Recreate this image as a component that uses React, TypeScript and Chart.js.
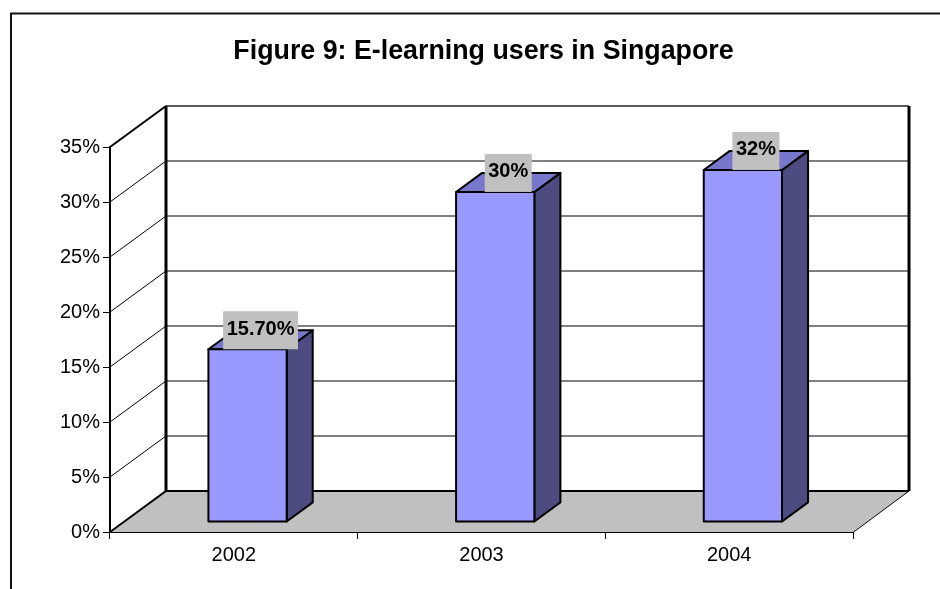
import React, { useEffect, useRef } from "react";
import { Chart, registerables } from "chart.js";

Chart.register(...registerables);

// ---- data ----
const categories = ["2002", "2003", "2004"];
const values = [15.7, 30, 32];
const valueLabels = ["15.70%", "30%", "32%"];
const yMin = 0;
const yMax = 35;
const yStep = 5;
const titleText = "Figure 9: E-learning users in Singapore";

// ---- style / layout constants ----
const FONT = "'Liberation Sans', Arial, Helvetica, sans-serif";
const DX = 56; // 3D depth offset (x)
const DY = 41; // 3D depth offset (y, upward)
const BAR_FRONT = 0.245;
const BAR_BACK = 0.71;
const FRONT_COLOR = "#9999FF";
const TOP_COLOR = "#7777CC";
const SIDE_COLOR = "#4C4C80";
const FLOOR_COLOR = "#C0C0C0";
const LABEL_BG = "#C0C0C0";

const excel3d = {
  id: "excel3d",
  beforeDatasetsDraw(chart: any) {
    const { ctx, chartArea, scales } = chart;
    const L = chartArea.left;
    const R = chartArea.right;
    const T = chartArea.top;
    const B = chartArea.bottom;
    const ys = scales.y;
    ctx.save();
    // floor
    ctx.fillStyle = FLOOR_COLOR;
    ctx.beginPath();
    ctx.moveTo(L, B);
    ctx.lineTo(R, B);
    ctx.lineTo(R + DX, B - DY);
    ctx.lineTo(L + DX, B - DY);
    ctx.closePath();
    ctx.fill();
    // gridlines on side + back wall
    ctx.strokeStyle = "#000";
    ctx.lineWidth = 1;
    for (const t of ys.ticks) {
      const v = t.value;
      if (v <= yMin || v >= yMax) continue;
      const y = ys.getPixelForValue(v);
      ctx.beginPath();
      ctx.moveTo(L, y);
      ctx.lineTo(L + DX, y - DY);
      ctx.lineTo(R + DX, y - DY);
      ctx.stroke();
    }
    // back wall top edge
    ctx.lineWidth = 1.5;
    ctx.strokeStyle = "#222";
    ctx.beginPath();
    ctx.moveTo(L + DX, T - DY);
    ctx.lineTo(R + DX, T - DY);
    ctx.stroke();
    ctx.strokeStyle = "#000";
    // side wall top diagonal
    ctx.lineWidth = 2;
    ctx.beginPath();
    ctx.moveTo(L, T);
    ctx.lineTo(L + DX, T - DY);
    ctx.stroke();
    // back wall vertical edges
    ctx.lineWidth = 3;
    ctx.beginPath();
    ctx.moveTo(L + DX, T - DY);
    ctx.lineTo(L + DX, B - DY);
    ctx.moveTo(R + DX, T - DY);
    ctx.lineTo(R + DX, B - DY);
    ctx.stroke();
    // floor back edge & left diagonal
    ctx.lineWidth = 2;
    ctx.beginPath();
    ctx.moveTo(L, B);
    ctx.lineTo(L + DX, B - DY);
    ctx.lineTo(R + DX, B - DY);
    ctx.stroke();
    // floor right diagonal & front edge
    ctx.lineWidth = 1;
    ctx.beginPath();
    ctx.moveTo(L, B + 0.5);
    ctx.lineTo(R, B + 0.5);
    ctx.lineTo(R + DX, B - DY);
    ctx.stroke();
    ctx.restore();
  },
  afterDatasetsDraw(chart: any) {
    const { ctx } = chart;
    const meta = chart.getDatasetMeta(0);
    ctx.save();
    ctx.lineJoin = "round";
    const bdx = (BAR_BACK - BAR_FRONT) * DX;
    const bdy = (BAR_BACK - BAR_FRONT) * DY;
    const boxes: any[] = [];
    meta.data.forEach((el: any, i: number) => {
      const { x, y, base, width } = el.getProps(["x", "y", "base", "width"], true);
      const fx0 = x - width / 2 + BAR_FRONT * DX;
      const fx1 = fx0 + width;
      const fyTop = y - BAR_FRONT * DY;
      const fyBot = base - BAR_FRONT * DY;
      ctx.lineWidth = 2;
      ctx.strokeStyle = "#000";
      // side face
      ctx.fillStyle = SIDE_COLOR;
      ctx.beginPath();
      ctx.moveTo(fx1, fyTop);
      ctx.lineTo(fx1 + bdx, fyTop - bdy);
      ctx.lineTo(fx1 + bdx, fyBot - bdy);
      ctx.lineTo(fx1, fyBot);
      ctx.closePath();
      ctx.fill();
      ctx.stroke();
      // top face
      ctx.fillStyle = TOP_COLOR;
      ctx.beginPath();
      ctx.moveTo(fx0, fyTop);
      ctx.lineTo(fx1, fyTop);
      ctx.lineTo(fx1 + bdx, fyTop - bdy);
      ctx.lineTo(fx0 + bdx, fyTop - bdy);
      ctx.closePath();
      ctx.fill();
      ctx.stroke();
      // front face
      ctx.fillStyle = FRONT_COLOR;
      ctx.beginPath();
      ctx.rect(fx0, fyTop, width, fyBot - fyTop);
      ctx.fill();
      ctx.stroke();
      boxes.push({ cx: fx0 + width / 2 + bdx / 2, bottom: fyTop, text: valueLabels[i] });
    });
    // data labels
    ctx.font = "bold 20px " + FONT;
    ctx.textAlign = "center";
    ctx.textBaseline = "middle";
    for (const b of boxes) {
      const tw = ctx.measureText(b.text).width;
      const bw = tw + 7;
      const bh = 38;
      ctx.fillStyle = LABEL_BG;
      ctx.fillRect(b.cx - bw / 2, b.bottom - bh, bw, bh);
      ctx.fillStyle = "#000";
      ctx.fillText(b.text, b.cx, b.bottom - bh / 2 - 1);
    }
    ctx.restore();
  },
  afterDraw(chart: any) {
    const { ctx } = chart;
    ctx.save();
    // outer frame (top & left visible)
    ctx.strokeStyle = "#111";
    ctx.lineWidth = 2;
    ctx.beginPath();
    ctx.moveTo(11, chart.height);
    ctx.lineTo(11, 13.5);
    ctx.lineTo(chart.width, 13.5);
    ctx.stroke();
    // title
    ctx.fillStyle = "#000";
    ctx.font = "bold 26.8px " + FONT;
    ctx.textAlign = "center";
    ctx.textBaseline = "alphabetic";
    ctx.fillText(titleText, 483.5, 59);
    ctx.restore();
  },
};

export default function App() {
  const ref = useRef<HTMLCanvasElement | null>(null);
  useEffect(() => {
    if (!ref.current) return;
    const chart = new Chart(ref.current, {
      type: "bar",
      data: {
        labels: categories,
        datasets: [
          {
            data: values,
            backgroundColor: "rgba(0,0,0,0)",
            borderWidth: 0,
            categoryPercentage: 1,
            barPercentage: 0.316,
          },
        ],
      },
      options: {
        responsive: false,
        animation: false,
        devicePixelRatio: 1,
        layout: { padding: { top: 147, right: 87, left: 0, bottom: 0 } },
        plugins: {
          legend: { display: false },
          title: { display: false },
          tooltip: { enabled: false },
        },
        scales: {
          x: {
            afterFit: (s: any) => {
              s.height = 57;
            },
            grid: {
              drawOnChartArea: false,
              drawTicks: true,
              tickLength: 7,
              color: "#000",
              lineWidth: 1,
              offset: true,
            },
            border: { display: true, color: "#000", width: 1 },
            ticks: {
              color: "#000",
              font: { family: FONT, size: 20 },
              padding: 4,
              maxRotation: 0,
            },
          },
          y: {
            min: yMin,
            max: yMax,
            afterFit: (s: any) => {
              s.width = 110;
            },
            grid: {
              drawOnChartArea: false,
              drawTicks: true,
              tickLength: 7,
              color: "#000",
              lineWidth: 1,
            },
            border: { display: true, color: "#000", width: 2 },
            ticks: {
              stepSize: yStep,
              color: "#000",
              padding: 3,
              font: { family: FONT, size: 20 },
              callback: (v: any) => v + "%",
            },
          },
        },
      },
      plugins: [excel3d],
    } as any);
    return () => chart.destroy();
  }, []);
  return (
    <div style={{ position: "fixed", left: 0, top: 0, width: 940, height: 589, background: "#fff" }}>
      <canvas ref={ref} width={940} height={589} style={{ display: "block" }} />
    </div>
  );
}
